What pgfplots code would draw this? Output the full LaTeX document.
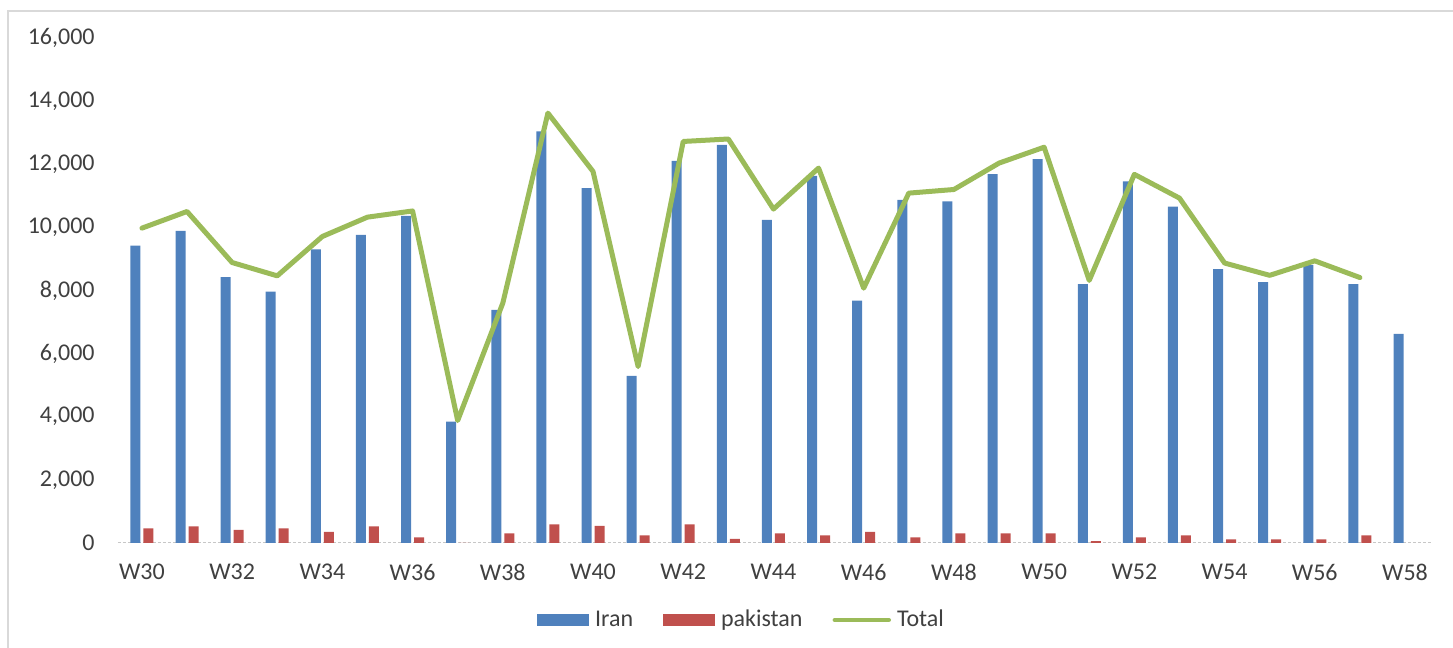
\documentclass[border=0pt]{standalone}
\usepackage{fontspec}
\setmainfont{Carlito}
\usepackage{pgfplots}
\pgfplotsset{compat=1.18}
\definecolor{iran}{HTML}{4F81BD}
\definecolor{pak}{HTML}{C0504D}
\definecolor{tot}{HTML}{9BBB59}
\definecolor{txt}{HTML}{404040}
\begin{document}
\begin{tikzpicture}
\useasboundingbox (-59pt,-52.5pt) rectangle (667.5pt,271.5pt);
\draw[line width=0.75pt, color=black!15] (-55pt,-52.5pt) -- (-55pt,266pt) -- (667.5pt,266pt);
\begin{axis}[
  at={(0,0)}, anchor=south west,
  scale only axis, width=657.5pt, height=252.5pt,
  xmin=-0.53, xmax=28.62, ymin=0, ymax=16000,
  axis line style={draw=none}, tick style={draw=none},
  ytick={0,2000,...,16000},
  xtick={0,2,...,28},
  xticklabels={W30,W32,W34,W36,W38,W40,W42,W44,W46,W48,W50,W52,W54,W56,W58},
  scaled y ticks=false,
  /pgf/number format/.cd, 1000 sep={,}, assume math mode=true, /pgfplots/.cd,
  tick label style={font=\fontsize{12}{14}\selectfont, text=txt},
  yticklabel style={anchor=east, inner sep=0pt, xshift=-11.5pt},
  xticklabel style={anchor=center, inner sep=0pt, yshift=-14.5pt},
  legend style={at={(rel axis cs:0.4734,-0.1525)}, anchor=center, draw=none,
    legend columns=-1, font=\fontsize{12}{14}\selectfont, text=txt,
    nodes={inner sep=0pt},
    /tikz/every odd column/.style={column sep=3pt},
    /tikz/every even column/.style={column sep=15pt}},
]
\draw[black!22, line width=0.75pt, dash pattern=on 1.5pt off 1pt] (rel axis cs:0,0) -- (rel axis cs:1,0);
\addplot[ybar, bar width=5pt, bar shift=-3.25pt, fill=iran, draw=none,
  legend image code/.code={\fill[iran] (0pt,-3pt) rectangle (26pt,3pt);}]
coordinates {(0,9425) (1,9890) (2,8422) (3,7967) (4,9299) (5,9764) (6,10366) (7,3846)
(8,7386) (9,13039) (10,11243) (11,5294) (12,12109) (13,12617) (14,10239) (15,11634)
(16,7681) (17,10873) (18,10820) (19,11687) (20,12162) (21,8200) (22,11454) (23,10661)
(24,8676) (25,8264) (26,8813) (27,8200) (28,6625)};
\addlegendentry{Iran}
\addplot[ybar, bar width=5pt, bar shift=3.25pt, fill=pak, draw=none,
  legend image code/.code={\fill[pak] (0pt,-3pt) rectangle (26pt,3pt);}]
coordinates {(0,465) (1,529) (2,412) (3,465) (4,349) (5,529) (6,180) (7,0)
(8,307) (9,592) (10,539) (11,243) (12,592) (13,127) (14,307) (15,243)
(16,349) (17,180) (18,307) (19,307) (20,307) (21,63) (22,180) (23,243)
(24,117) (25,117) (26,117) (27,243)};
\addlegendentry{pakistan}
\addplot[tot, line width=2.5pt, line join=round, line cap=round, mark=none,
  legend image code/.code={\draw[tot, line width=2.2pt, line cap=round] (0pt,0pt) -- (27pt,0pt);}]
coordinates {(0,9975) (1,10503) (2,8886) (3,8464) (4,9711) (5,10324) (6,10520) (7,3880)
(8,7600) (9,13621) (10,11771) (11,5590) (12,12722) (13,12800) (14,10580) (15,11878)
(16,8074) (17,11085) (18,11200) (19,12036) (20,12540) (21,8320) (22,11680) (23,10927)
(24,8870) (25,8480) (26,8939) (27,8410)};
\addlegendentry{Total}
\end{axis}
\end{tikzpicture}
\end{document}
